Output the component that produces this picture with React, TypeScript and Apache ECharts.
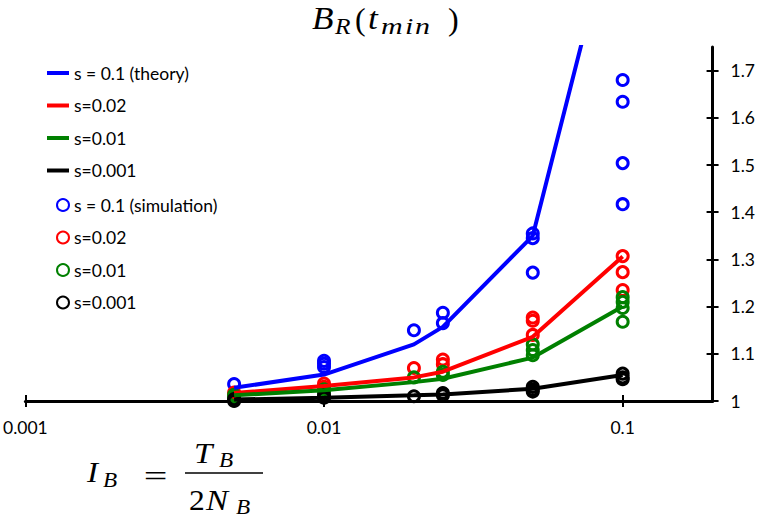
import React, { useEffect, useRef } from "react";
import * as echarts from "echarts";

// ---- data ----
const xValues = [0.005, 0.01, 0.02, 0.025, 0.05, 0.1];
const theoryS01 = [1.028, 1.056, 1.12, 1.157, 1.35, 2.1];
const theoryS002 = [1.017, 1.032, 1.05, 1.062, 1.136, 1.306];
const theoryS001 = [1.012, 1.023, 1.04, 1.047, 1.092, 1.2];
const theoryS0001 = [1.003, 1.007, 1.012, 1.014, 1.026, 1.055];

const simS01: [number, number][] = [
  [0.005, 1.036], [0.01, 1.085], [0.01, 1.079], [0.01, 1.072], [0.02, 1.15],
  [0.025, 1.187], [0.025, 1.165], [0.05, 1.355], [0.05, 1.345], [0.05, 1.272],
  [0.1, 1.68], [0.1, 1.634], [0.1, 1.504], [0.1, 1.417],
];
const simS002: [number, number][] = [
  [0.005, 1.018], [0.005, 1.012], [0.01, 1.037], [0.01, 1.03], [0.02, 1.07],
  [0.025, 1.088], [0.025, 1.078], [0.05, 1.177], [0.05, 1.17], [0.05, 1.14],
  [0.1, 1.307], [0.1, 1.273], [0.1, 1.235],
];
const simS001: [number, number][] = [
  [0.005, 1.013], [0.005, 1.008], [0.01, 1.025], [0.01, 1.019], [0.02, 1.05],
  [0.025, 1.062], [0.025, 1.055], [0.05, 1.12], [0.05, 1.108], [0.05, 1.097],
  [0.1, 1.22], [0.1, 1.21], [0.1, 1.197], [0.1, 1.168],
];
const simS0001: [number, number][] = [
  [0.005, 1.004], [0.005, 1.0], [0.01, 1.012], [0.01, 1.007], [0.02, 1.01],
  [0.025, 1.017], [0.025, 1.012], [0.05, 1.03], [0.05, 1.024], [0.05, 1.02],
  [0.1, 1.058], [0.1, 1.05], [0.1, 1.046],
];

const xTicks = [0.001, 0.01, 0.1];
const xTickLabels = ["0.001", "0.01", "0.1"];
const yTicks = [1, 1.1, 1.2, 1.3, 1.4, 1.5, 1.6, 1.7];
const yTickLabels = ["1", "1.1", "1.2", "1.3", "1.4", "1.5", "1.6", "1.7"];

const colors = ["#0000ff", "#ff0000", "#008000", "#000000"];
const theoryNames = ["s = 0.1 (theory)", "s=0.02", "s=0.01", "s=0.001"];
const simNames = ["s = 0.1 (simulation)", "s=0.02", "s=0.01", "s=0.001"];
const theoryData = [theoryS01, theoryS002, theoryS001, theoryS0001];
const simData = [simS01, simS002, simS001, simS0001];

const sans = "Lato, 'Open Sans', sans-serif";
const serif = "'Liberation Serif', 'DejaVu Serif', serif";

function nearestLabel(v: number, ticks: number[], labels: string[], log: boolean) {
  let best = 0;
  let bd = Infinity;
  ticks.forEach((t, i) => {
    const d = log ? Math.abs(Math.log10(t) - Math.log10(v)) : Math.abs(t - v);
    if (d < bd) { bd = d; best = i; }
  });
  return bd < 1e-6 ? labels[best] : "";
}

function glyph(
  text: string, x: number, baseline: number, size: number,
  italic = true, align = "left", sx = 1
) {
  return {
    type: "text",
    x,
    y: baseline - 0.34 * size,
    scaleX: sx,
    silent: true,
    style: {
      text,
      fill: "#000",
      fontSize: size,
      fontFamily: serif,
      fontStyle: italic ? "italic" : "normal",
      textAlign: align,
      textVerticalAlign: "middle",
      verticalAlign: "middle",
    },
  };
}

export default function App() {
  const ref = useRef<HTMLDivElement>(null);
  useEffect(() => {
    if (!ref.current) return;
    const chart = echarts.init(ref.current, null, { renderer: "svg" });

    const axisBase = {
      splitLine: { show: false },
      minorTick: { show: false },
      minorSplitLine: { show: false },
    };

    const series: any[] = [];
    simData.forEach((d, i) => {
      series.push({
        type: "scatter",
        name: "sim" + i,
        xAxisIndex: 0,
        yAxisIndex: 0,
        data: d,
        symbol: "circle",
        symbolSize: 11,
        itemStyle: { color: "rgba(0,0,0,0)", borderColor: colors[i], borderWidth: 3, opacity: 1 },
        z: 2,
      });
    });
    theoryData.forEach((d, i) => {
      series.push({
        type: "line",
        name: "theory" + i,
        xAxisIndex: 0,
        yAxisIndex: 0,
        data: xValues.map((x, j) => [x, d[j]]),
        showSymbol: false,
        symbol: "none",
        clip: true,
        lineStyle: { color: colors[i], width: 4 },
        itemStyle: { color: colors[i] },
        z: 3,
      });
    });

    const legendText = { color: "#000", fontFamily: sans, fontSize: 17.5, lineHeight: 18 };

    const option: any = {
      animation: false,
      grid: { left: 24, right: 45, top: 47, bottom: 118, containLabel: false },
      xAxis: [
        {
          ...axisBase,
          type: "log",
          logBase: 10,
          min: 0.001,
          max: 0.2,
          position: "bottom",
          axisLine: { show: true, lineStyle: { color: "#000", width: 3 } },
          axisTick: { show: true, length: 6, customValues: xTicks, lineStyle: { color: "#000", width: 2 } },
          axisLabel: {
            show: true,
            customValues: xTicks,
            margin: 17,
            color: "#000",
            fontFamily: sans,
            fontSize: 17.5,
            formatter: (v: number) => nearestLabel(v, xTicks, xTickLabels, true),
          },
        },
        {
          ...axisBase,
          type: "log",
          logBase: 10,
          min: 0.001,
          max: 0.2,
          position: "bottom",
          axisLine: { show: false },
          axisTick: { show: true, inside: true, length: 6, customValues: xTicks, lineStyle: { color: "#000", width: 2 } },
          axisLabel: { show: false },
        },
      ],
      yAxis: [
        {
          ...axisBase,
          type: "value",
          min: 1,
          max: 1.75,
          position: "right",
          axisLine: { show: true, lineStyle: { color: "#000", width: 3 } },
          axisTick: { show: true, length: 6, customValues: yTicks, lineStyle: { color: "#000", width: 2 } },
          axisLabel: {
            show: true,
            customValues: yTicks,
            margin: 18,
            color: "#000",
            fontFamily: sans,
            fontSize: 17.5,
            formatter: (v: number) => nearestLabel(v, yTicks, yTickLabels, false),
          },
        },
        {
          ...axisBase,
          type: "value",
          min: 1,
          max: 1.75,
          position: "right",
          axisLine: { show: false },
          axisTick: { show: true, inside: true, length: 6, customValues: yTicks, lineStyle: { color: "#000", width: 2 } },
          axisLabel: { show: false },
        },
      ],
      legend: [
        {
          orient: "vertical",
          left: 47,
          top: 64,
          padding: 0,
          itemWidth: 22,
          itemHeight: 4,
          itemGap: 14.5,
          icon: "rect",
          selectedMode: false,
          data: theoryNames.map((_, i) => "theory" + i),
          formatter: (n: string) => theoryNames[Number(n.replace("theory", ""))],
          textStyle: legendText,
        },
        {
          orient: "vertical",
          left: 56,
          top: 196,
          padding: 0,
          itemWidth: 12,
          itemHeight: 12,
          itemGap: 14.5,
          icon: "circle",
          selectedMode: false,
          data: simNames.map((_, i) => "sim" + i),
          formatter: (n: string) => simNames[Number(n.replace("sim", ""))],
          textStyle: legendText,
        },
      ],
      graphic: [
        // title  B_R(t_min)
        glyph("B", 312, 29, 32, true, "left", 1.1),
        glyph("R", 335, 34, 23, true, "left", 1.1),
        glyph("(", 355, 30, 32, false),
        glyph("t", 368, 29, 32, true, "left", 1.1),
        glyph("m", 381, 34, 24, true, "left", 1.25),
        glyph("i", 405, 34, 24, true, "left", 1.25),
        glyph("n", 415, 34, 24, true, "left", 1.25),
        glyph(")", 448, 30, 32, false),
        // formula  I_B = T_B / 2N_B
        glyph("I", 87, 482, 30, true, "left", 1.1),
        glyph("B", 103, 487, 21, true, "left", 1.1),
        glyph("=", 155.5, 486, 30, false, "center", 1.4),
        glyph("T", 194, 463, 30, true, "left", 1.1),
        glyph("B", 219, 467, 21, true, "left", 1.1),
        glyph("2", 189, 510, 30, false, "left", 1.05),
        glyph("N", 206, 510, 30, true, "left", 1.1),
        glyph("B", 236, 514, 21, true, "left", 1.1),
        {
          type: "line",
          silent: true,
          shape: { x1: 185, y1: 473, x2: 263, y2: 473 },
          style: { stroke: "#000", lineWidth: 1.5 },
        },
      ],
      series,
    };

    chart.setOption(option);
    return () => chart.dispose();
  }, []);

  return (
    <div
      ref={ref}
      style={{ position: "fixed", left: 0, top: 0, width: 758, height: 519, background: "#fff" }}
    />
  );
}
